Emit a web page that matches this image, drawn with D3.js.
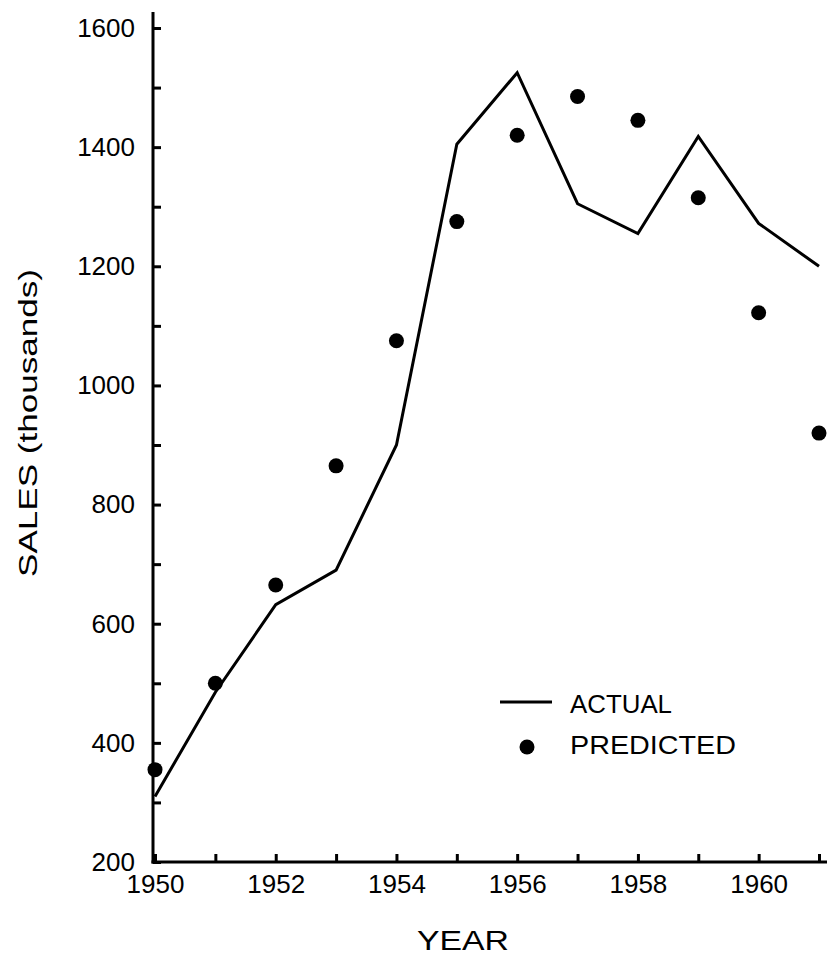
<!DOCTYPE html>
<meta charset="utf-8">
<style>
    body { margin: 0; background: #fff; }
    text {
        font-family: "Liberation Sans", Arial, Helvetica, sans-serif;
        fill: #000;
    }
    .axis line, .axis path { stroke: #000; stroke-width: 3px; }
    .axis text { font-size: 26px; }
</style>
<svg width="827" height="955"></svg>
<script src="https://cdn.jsdelivr.net/npm/d3@7"></script>
<script>

    // data
    var years = [1950, 1951, 1952, 1953, 1954, 1955, 1956, 1957, 1958, 1959, 1960, 1961];
    var actual = [310, 485, 632, 690, 900, 1405, 1525, 1305, 1255, 1418, 1272, 1200];
    var predicted = [355, 500, 665, 865, 1075, 1275, 1420, 1485, 1445, 1315, 1122, 920];
    var yTicks = d3.range(200, 1601, 100);
    var xTicks = d3.range(1950, 1962, 1);

    const AXIS_X = 153;
    const TICK = 8;
    const DOT_R = 7.5;
    const LINE_W = 3;

    var svg = d3.select("svg"),
        width = +svg.attr("width"),
        height = +svg.attr("height");

    var x = d3.scaleLinear().domain([1950, 1961]).range([155, 819]);
    var y = d3.scaleLinear().domain([200, 1600]).range([862, 28]);

    // y axis
    var gy = svg.append("g")
        .attr("class", "axis")
        .attr("transform", "translate(" + AXIS_X + ",0)")
        .call(d3.axisLeft(y)
            .tickValues(yTicks)
            .tickSize(-TICK)
            .tickSizeOuter(0)
            .tickPadding(18)
            .tickFormat(function (d) { return d % 200 === 0 ? d : ""; }));
    gy.select(".domain").remove();
    gy.append("line")
        .attr("x1", 0).attr("x2", 0)
        .attr("y1", y(1627)).attr("y2", y(200) + 1.5);

    // x axis
    var gx = svg.append("g")
        .attr("class", "axis")
        .attr("transform", "translate(0," + y(200) + ")")
        .call(d3.axisBottom(x)
            .tickValues(xTicks)
            .tickSize(-TICK)
            .tickSizeOuter(0)
            .tickPadding(13)
            .tickFormat(function (d) { return d % 2 === 0 ? d : ""; }));
    gx.select(".domain").remove();
    gx.append("line")
        .attr("x1", AXIS_X - 1.5).attr("x2", width)
        .attr("y1", 0).attr("y2", 0);

    // axis titles
    svg.append("text")
        .attr("x", 463)
        .attr("y", 950)
        .attr("text-anchor", "middle")
        .attr("font-size", 27)
        .attr("textLength", 92)
        .attr("lengthAdjust", "spacingAndGlyphs")
        .text("YEAR");

    svg.append("text")
        .attr("transform", "translate(37,423) rotate(-90)")
        .attr("text-anchor", "middle")
        .attr("font-size", 26)
        .attr("textLength", 308)
        .attr("lengthAdjust", "spacingAndGlyphs")
        .text("SALES (thousands)");

    // actual line
    var line = d3.line()
        .x(function (d, i) { return x(years[i]); })
        .y(function (d) { return y(d); });

    svg.append("path")
        .datum(actual)
        .attr("fill", "none")
        .attr("stroke", "#000")
        .attr("stroke-width", LINE_W)
        .attr("stroke-linejoin", "miter")
        .attr("d", line);

    // predicted dots
    svg.append("g")
        .selectAll("circle")
        .data(predicted)
        .enter().append("circle")
        .attr("cx", function (d, i) { return x(years[i]); })
        .attr("cy", function (d) { return y(d); })
        .attr("r", DOT_R)
        .attr("fill", "#000");

    // legend
    var legend = svg.append("g").attr("transform", "translate(500,702)");
    legend.append("line")
        .attr("x1", 0).attr("x2", 52)
        .attr("y1", 0).attr("y2", 0)
        .attr("stroke", "#000")
        .attr("stroke-width", LINE_W);
    legend.append("text")
        .attr("x", 70).attr("y", 11)
        .attr("font-size", 26)
        .attr("textLength", 102)
        .attr("lengthAdjust", "spacingAndGlyphs")
        .text("ACTUAL");
    legend.append("circle")
        .attr("cx", 27).attr("cy", 45)
        .attr("r", DOT_R)
        .attr("fill", "#000");
    legend.append("text")
        .attr("x", 70).attr("y", 52)
        .attr("font-size", 26)
        .attr("textLength", 166)
        .attr("lengthAdjust", "spacingAndGlyphs")
        .text("PREDICTED");

</script>
